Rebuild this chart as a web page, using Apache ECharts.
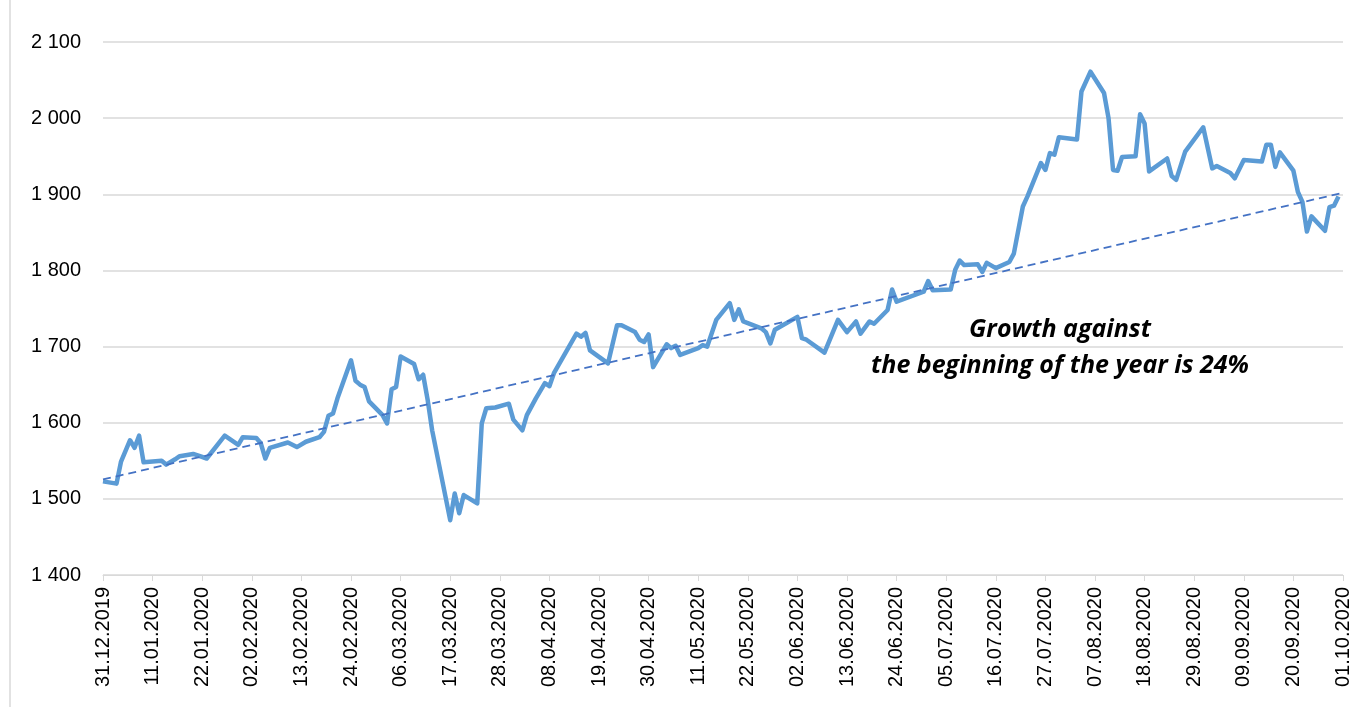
<!DOCTYPE html>
<html>
<head>
<meta charset="utf-8">
<script src="https://cdn.jsdelivr.net/npm/echarts@6/dist/echarts.min.js"></script>
<style>
html,body{margin:0;padding:0;background:#fff;}
#chart{width:1357px;height:707px;}
</style>
</head>
<body>
<div id="chart"></div>
<script>
// Axis range
const firstDay = '31.12.2019';
const lastDay = '01.10.2020';
const yTicks = [1400, 1500, 1600, 1700, 1800, 1900, 2000, 2100];

// Price readings (date, value)
const priceDates = [
 '31.12.2019','03.01.2020','04.01.2020','06.01.2020','07.01.2020','08.01.2020','09.01.2020','13.01.2020','14.01.2020','16.01.2020',
 '17.01.2020','20.01.2020','21.01.2020','23.01.2020','27.01.2020','30.01.2020','31.01.2020','03.02.2020','04.02.2020','05.02.2020',
 '06.02.2020','10.02.2020','12.02.2020','14.02.2020','17.02.2020','18.02.2020','19.02.2020','20.02.2020','21.02.2020','24.02.2020',
 '25.02.2020','26.02.2020','27.02.2020','28.02.2020','02.03.2020','03.03.2020','04.03.2020','05.03.2020','06.03.2020','09.03.2020',
 '10.03.2020','11.03.2020','12.03.2020','13.03.2020','17.03.2020','18.03.2020','19.03.2020','20.03.2020','23.03.2020','24.03.2020',
 '25.03.2020','27.03.2020','30.03.2020','31.03.2020','02.04.2020','03.04.2020','05.04.2020','07.04.2020','08.04.2020','09.04.2020',
 '14.04.2020','15.04.2020','16.04.2020','17.04.2020','21.04.2020','23.04.2020','24.04.2020','27.04.2020','28.04.2020','29.04.2020',
 '30.04.2020','01.05.2020','04.05.2020','05.05.2020','06.05.2020','07.05.2020','11.05.2020','12.05.2020','13.05.2020','15.05.2020',
 '18.05.2020','19.05.2020','20.05.2020','21.05.2020','25.05.2020','26.05.2020','27.05.2020','28.05.2020','02.06.2020','03.06.2020',
 '04.06.2020','08.06.2020','11.06.2020','13.06.2020','15.06.2020','16.06.2020','18.06.2020','19.06.2020','22.06.2020','23.06.2020',
 '24.06.2020','30.06.2020','01.07.2020','02.07.2020','06.07.2020','07.07.2020','08.07.2020','09.07.2020','12.07.2020','13.07.2020',
 '14.07.2020','16.07.2020','19.07.2020','20.07.2020','22.07.2020','23.07.2020','26.07.2020','27.07.2020','28.07.2020','29.07.2020',
 '30.07.2020','03.08.2020','04.08.2020','06.08.2020','09.08.2020','10.08.2020','11.08.2020','12.08.2020','13.08.2020','16.08.2020',
 '17.08.2020','18.08.2020','19.08.2020','23.08.2020','24.08.2020','25.08.2020','27.08.2020','31.08.2020','02.09.2020','03.09.2020',
 '06.09.2020','07.09.2020','09.09.2020','13.09.2020','14.09.2020','15.09.2020','16.09.2020','17.09.2020','20.09.2020','21.09.2020',
 '22.09.2020','23.09.2020','24.09.2020','27.09.2020','28.09.2020','29.09.2020','30.09.2020'
];
const priceValues = [
 1523,1520,1549,1577,1567,1583,1548,1550,1545,1552,
 1556,1559,1557,1553,1583,1571,1581,1580,1573,1553,
 1567,1574,1568,1575,1581,1588,1609,1612,1632,1682,
 1655,1650,1647,1628,1610,1599,1644,1647,1687,1677,
 1657,1663,1630,1590,1472,1507,1481,1505,1494,1599,
 1619,1620,1625,1604,1590,1610,1632,1652,1648,1665,
 1717,1713,1718,1695,1678,1728,1728,1719,1709,1706,
 1716,1673,1703,1698,1701,1689,1698,1702,1700,1735,
 1757,1735,1749,1733,1724,1719,1704,1722,1739,1711,
 1709,1692,1735,1719,1733,1717,1733,1730,1748,1775,
 1759,1772,1786,1774,1775,1801,1813,1807,1808,1798,
 1810,1803,1811,1822,1884,1897,1941,1932,1954,1952,
 1975,1972,2035,2061,2033,2000,1932,1931,1949,1950,
 2005,1993,1930,1947,1924,1919,1956,1988,1934,1937,
 1928,1921,1945,1943,1965,1965,1936,1955,1931,1903,
 1890,1851,1871,1852,1883,1885,1897
];

// Linear trend end values (start of axis, end of axis)
const trendValues = [1525.5, 1902];

// Annotation
const noteLines = ['Growth against', 'the beginning of the year is 24%'];

function parse(s){const p=s.split('.');return Date.UTC(+p[2],+p[1]-1,+p[0]);}
function fmt(t){const d=new Date(t);const dd=String(d.getUTCDate()).padStart(2,'0');const mm=String(d.getUTCMonth()+1).padStart(2,'0');return dd+'.'+mm+'.'+d.getUTCFullYear();}

const categories=[];
for(let t=parse(firstDay);t<=parse(lastDay);t+=86400000){categories.push(fmt(t));}
const idx={};categories.forEach((c,i)=>idx[c]=i);

const priceSeries=new Array(categories.length).fill(null);
priceDates.forEach((d,i)=>{priceSeries[idx[d]]=priceValues[i];});
const trendSeries=new Array(categories.length).fill(null);
trendSeries[0]=trendValues[0];
trendSeries[categories.length-1]=trendValues[1];

const chart=echarts.init(document.getElementById('chart'),null,{renderer:'canvas'});
const font='"Liberation Sans", Arial, sans-serif';
const noteFont='italic bold 25px "Open Sans", "Noto Sans", sans-serif';
chart.setOption({
  animation:false,
  backgroundColor:'#ffffff',
  grid:{left:103,right:14,top:42,bottom:132,containLabel:false},
  xAxis:{
    type:'category',
    data:categories,
    boundaryGap:false,
    axisLine:{lineStyle:{color:'#D9D9D9',width:1}},
    axisTick:{show:true,interval:10,length:6,lineStyle:{color:'#D9D9D9'}},
    axisLabel:{interval:10,rotate:90,margin:12,fontSize:20,color:'#000',fontFamily:font},
    splitLine:{show:false}
  },
  yAxis:{
    type:'value',
    min:yTicks[0],max:yTicks[yTicks.length-1],interval:100,
    axisLine:{show:false},
    axisTick:{show:false},
    axisLabel:{margin:22,fontSize:20,color:'#000',fontFamily:font,
      formatter:v=>String(v).replace(/\B(?=(\d{3})+(?!\d))/g,' ')},
    splitLine:{lineStyle:{color:'#D9D9D9',width:1.5}}
  },
  series:[
    {
      type:'line',data:priceSeries,connectNulls:true,showSymbol:false,symbol:'none',
      lineStyle:{color:'#5B9BD5',width:4.5,join:'round'},z:3
    },
    {
      type:'line',data:trendSeries,connectNulls:true,showSymbol:false,symbol:'none',
      lineStyle:{color:'#4472C4',width:1.8,type:[8,5]},z:4
    }
  ],
  graphic:[
    {type:'line',shape:{x1:10,y1:0,x2:10,y2:707},style:{stroke:'#D9D9D9',lineWidth:1.5}},
    {type:'text',x:1060,y:330,style:{text:noteLines[0],textAlign:'center',textVerticalAlign:'middle',
      font:noteFont,fill:'#000'}},
    {type:'text',x:1060,y:366,style:{text:noteLines[1],textAlign:'center',textVerticalAlign:'middle',
      font:noteFont,fill:'#000'}}
  ]
});
</script>
</body>
</html>
